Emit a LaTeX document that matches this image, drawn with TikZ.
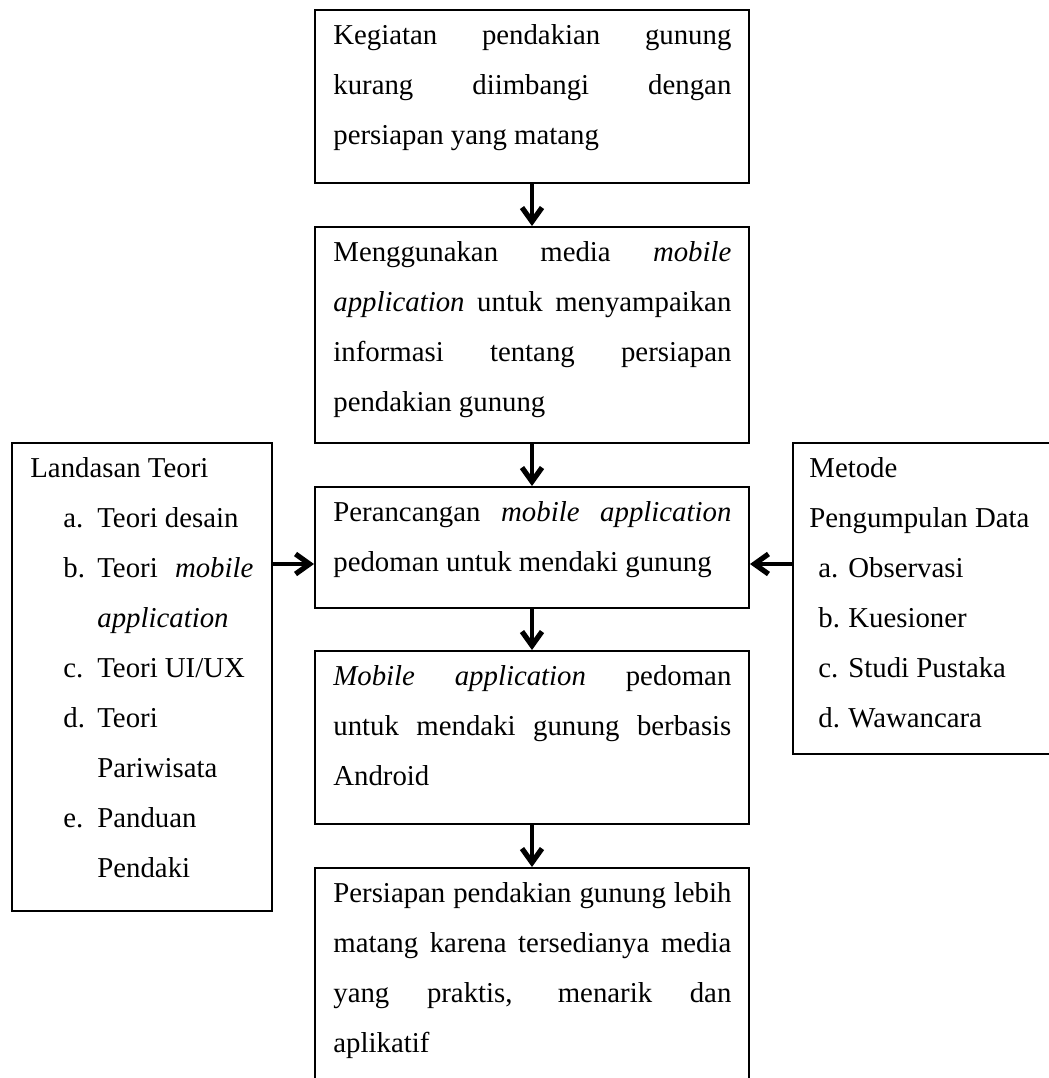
\documentclass[tikz,border=0pt]{standalone}
\usepackage{fontspec}
\setmainfont{Liberation Serif}
\usepackage{tikz}
\usetikzlibrary{arrows.meta}
\tikzset{kotak/.style = {draw, line width = 1pt, anchor = north west, inner sep = 0pt}}
\tikzset{isi/.style = {anchor = north west, inner sep = 0pt, text width = 199pt, align = justify, font = \fontsize{14.4pt}{25pt}\selectfont}}
\tikzset{panah/.style = {-{Straight Barb[length = 7pt, width = 10pt, line width = 2.6pt]}, line width = 2pt}}
\newlength{\masuk}
\newlength{\lebar}
\newcommand{\butir}[2]{\par\leftskip=\masuk\noindent\llap{\makebox[\lebar][l]{#1}}\strut #2}
\hyphenpenalty=10000
\exhyphenpenalty=10000

\begin{document}
\begin{tikzpicture}[x = 1pt, y = 1pt]
				\useasboundingbox (0, 0) rectangle (524.5, -539);

				\node[kotak, minimum width = 217pt, minimum height = 86.5pt] (masalah) at (157, -4.5) {};
				\node[kotak, minimum width = 217pt, minimum height = 108pt] (media) at (157, -113) {};
				\node[kotak, minimum width = 217pt, minimum height = 60.5pt] (perancangan) at (157, -243) {};
				\node[kotak, minimum width = 217pt, minimum height = 86.5pt] (hasil) at (157, -325) {};
				\node[kotak, minimum width = 217pt, minimum height = 111.5pt] (tujuan) at (157, -433.5) {};
				\node[kotak, minimum width = 130pt, minimum height = 234pt] (teori) at (5.5, -221) {};
				\node[kotak, minimum width = 130.5pt, minimum height = 155.5pt] (metode) at (396, -221) {};

				\node[isi, xshift = 9.5pt] (masalah-isi) at (masalah.north west)
					{\strut Kegiatan pendakian gunung\linebreak kurang diimbangi dengan\linebreak persiapan yang matang};
				\node[isi, xshift = 9.5pt] (media-isi) at (media.north west)
					{\strut Menggunakan media \textit{mobile}\linebreak \textit{application} untuk menyampaikan\linebreak informasi tentang persiapan\linebreak pendakian gunung};
				\node[isi, xshift = 9.5pt] (perancangan-isi) at (perancangan.north west)
					{\strut Perancangan \textit{mobile application}\linebreak pedoman untuk mendaki gunung};
				\node[isi, xshift = 9.5pt] (hasil-isi) at (hasil.north west)
					{\strut\textit{Mobile application} pedoman\linebreak untuk mendaki gunung berbasis\linebreak Android};
				\node[isi, xshift = 9.5pt] (tujuan-isi) at (tujuan.north west)
					{\strut Persiapan pendakian gunung lebih\linebreak matang karena tersedianya media\linebreak yang praktis, menarik dan\linebreak aplikatif};
				\node[isi, xshift = 9.5pt, text width = 111.5pt] (teori-isi) at (teori.north west)
					{\setlength{\masuk}{33.5pt}\setlength{\lebar}{17pt}%
					\strut Landasan Teori
					\butir{a.}{Teori desain}
					\butir{b.}{Teori \textit{mobile}\linebreak \textit{application}}
					\butir{c.}{Teori UI/UX}
					\butir{d.}{Teori\newline Pariwisata}
					\butir{e.}{Panduan\newline Pendaki}\par};
				\node[isi, xshift = 8.5pt, text width = 113pt] (metode-isi) at (metode.north west)
					{\setlength{\masuk}{19.5pt}\setlength{\lebar}{15pt}%
					\strut Metode\newline Pengumpulan Data
					\butir{a.}{Observasi}
					\butir{b.}{Kuesioner}
					\butir{c.}{Studi Pustaka}
					\butir{d.}{Wawancara}\par};

				\coordinate (masuk-kiri) at ([yshift = -8.25pt]perancangan.west);
				\coordinate (masuk-kanan) at ([yshift = -8.25pt]perancangan.east);

				\draw[panah] (masalah) to (media);
				\draw[panah] (media) to (perancangan);
				\draw[panah] (perancangan) to (hasil);
				\draw[panah] (hasil) to (tujuan);
				\draw[panah] (masuk-kiri -| teori.east) to (masuk-kiri);
				\draw[panah] (masuk-kanan -| metode.west) to (masuk-kanan);
			\end{tikzpicture}
\end{document}
